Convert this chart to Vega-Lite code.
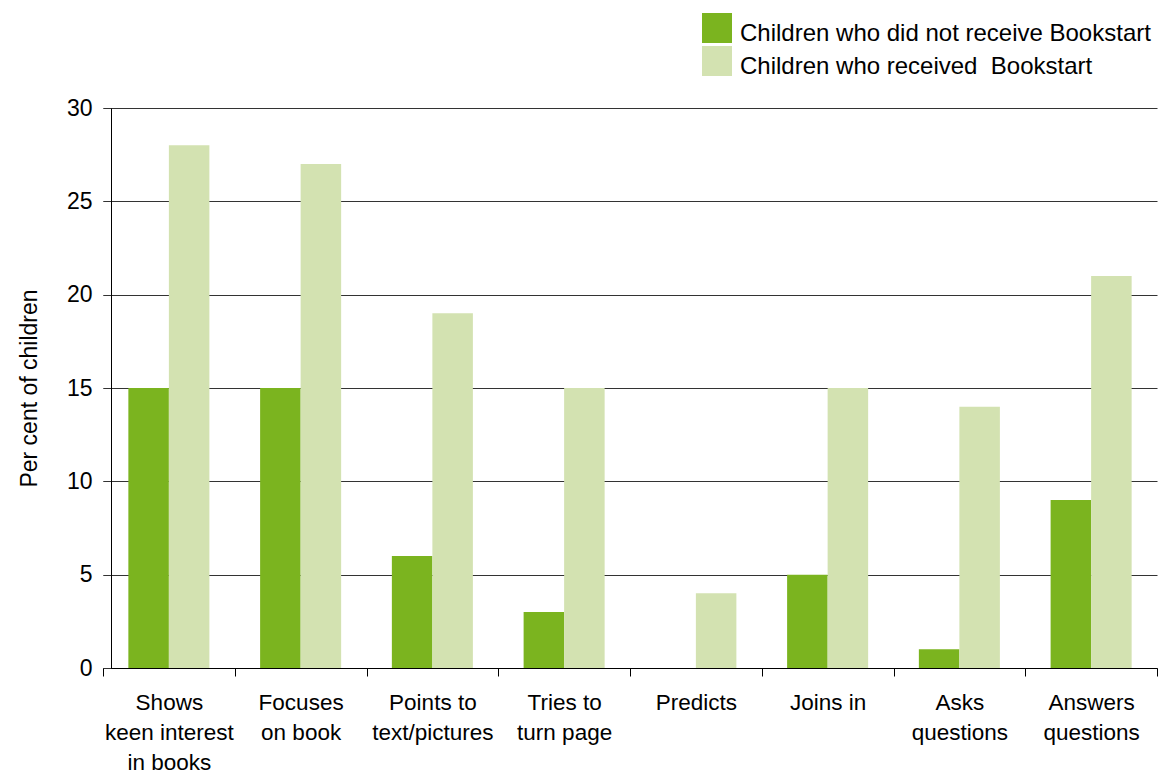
{
  "$schema": "https://vega.github.io/schema/vega-lite/v6.json",
  "width": 1054,
  "height": 560,
  "autosize": {"type": "none"},
  "padding": {"left": 103, "top": 108, "right": 6, "bottom": 107},
  "background": "white",
  "config": {"view": {"stroke": null}, "font": "Liberation Sans"},
  "data": {
    "values": [
      {"activity": "Shows keen interest in books", "group": "Children who did not receive Bookstart", "percent": 15},
      {"activity": "Shows keen interest in books", "group": "Children who received  Bookstart", "percent": 28},
      {"activity": "Focuses on book", "group": "Children who did not receive Bookstart", "percent": 15},
      {"activity": "Focuses on book", "group": "Children who received  Bookstart", "percent": 27},
      {"activity": "Points to text/pictures", "group": "Children who did not receive Bookstart", "percent": 6},
      {"activity": "Points to text/pictures", "group": "Children who received  Bookstart", "percent": 19},
      {"activity": "Tries to turn page", "group": "Children who did not receive Bookstart", "percent": 3},
      {"activity": "Tries to turn page", "group": "Children who received  Bookstart", "percent": 15},
      {"activity": "Predicts", "group": "Children who did not receive Bookstart", "percent": 0},
      {"activity": "Predicts", "group": "Children who received  Bookstart", "percent": 4},
      {"activity": "Joins in", "group": "Children who did not receive Bookstart", "percent": 5},
      {"activity": "Joins in", "group": "Children who received  Bookstart", "percent": 15},
      {"activity": "Asks questions", "group": "Children who did not receive Bookstart", "percent": 1},
      {"activity": "Asks questions", "group": "Children who received  Bookstart", "percent": 14},
      {"activity": "Answers questions", "group": "Children who did not receive Bookstart", "percent": 9},
      {"activity": "Answers questions", "group": "Children who received  Bookstart", "percent": 21}
    ]
  },
  "mark": {"type": "bar"},
  "encoding": {
    "x": {
      "field": "activity",
      "type": "nominal",
      "sort": ["Shows keen interest in books", "Focuses on book", "Points to text/pictures", "Tries to turn page", "Predicts", "Joins in", "Asks questions", "Answers questions"],
      "scale": {"paddingInner": 0, "paddingOuter": 0},
      "axis": {
        "title": null,
        "labelAngle": 0,
        "labelFontSize": 22.5,
        "labelColor": "black",
        "labelLineHeight": 30,
        "labelPadding": 15,
        "labelBaseline": "top",
        "labelLimit": 300,
        "tickBand": "extent",
        "tickSize": 8,
        "tickColor": "black",
        "domainColor": "black",
        "domainWidth": 1.2,
        "labelExpr": "datum.value == 'Shows keen interest in books' ? ['Shows', 'keen interest', 'in books'] : datum.value == 'Focuses on book' ? ['Focuses', 'on book'] : datum.value == 'Points to text/pictures' ? ['Points to', 'text/pictures'] : datum.value == 'Tries to turn page' ? ['Tries to', 'turn page'] : datum.value == 'Asks questions' ? ['Asks', 'questions'] : datum.value == 'Answers questions' ? ['Answers', 'questions'] : datum.value"
      }
    },
    "xOffset": {
      "field": "group",
      "type": "nominal",
      "sort": ["Children who did not receive Bookstart", "Children who received  Bookstart"],
      "scale": {"paddingInner": 0, "paddingOuter": 0.626}
    },
    "y": {
      "field": "percent",
      "type": "quantitative",
      "scale": {"domain": [0, 30]},
      "axis": {
        "values": [0, 5, 10, 15, 20, 25, 30],
        "grid": true,
        "gridColor": "#333",
        "gridWidth": 1,
        "domainColor": "black",
        "tickColor": "#333",
        "tickSize": 8,
        "offset": -8,
        "labelFontSize": 23,
        "labelColor": "black",
        "labelPadding": 11,
        "title": "Per cent of children",
        "titleFontSize": 23,
        "titleFontWeight": "normal",
        "titleColor": "black",
        "titlePadding": 25
      }
    },
    "color": {
      "field": "group",
      "type": "nominal",
      "sort": ["Children who did not receive Bookstart", "Children who received  Bookstart"],
      "scale": {"domain": ["Children who did not receive Bookstart", "Children who received  Bookstart"], "range": ["#7bb41f", "#d3e2b1"]},
      "legend": {
        "title": null,
        "orient": "none",
        "legendX": 599,
        "legendY": -89,
        "padding": 0,
        "symbolType": "M-1,-1.4H1V0.6H-1Z",
        "symbolSize": 900,
        "symbolStrokeWidth": 0,
        "symbolOpacity": 1,
        "labelFontSize": 24,
        "labelColor": "black",
        "labelOffset": 8,
        "labelBaseline": "middle",
        "rowPadding": 0,
        "labelLimit": 500,
        "labelExpr": "replace(datum.label, '  ', '\u00a0 ')"
      }
    }
  }
}
